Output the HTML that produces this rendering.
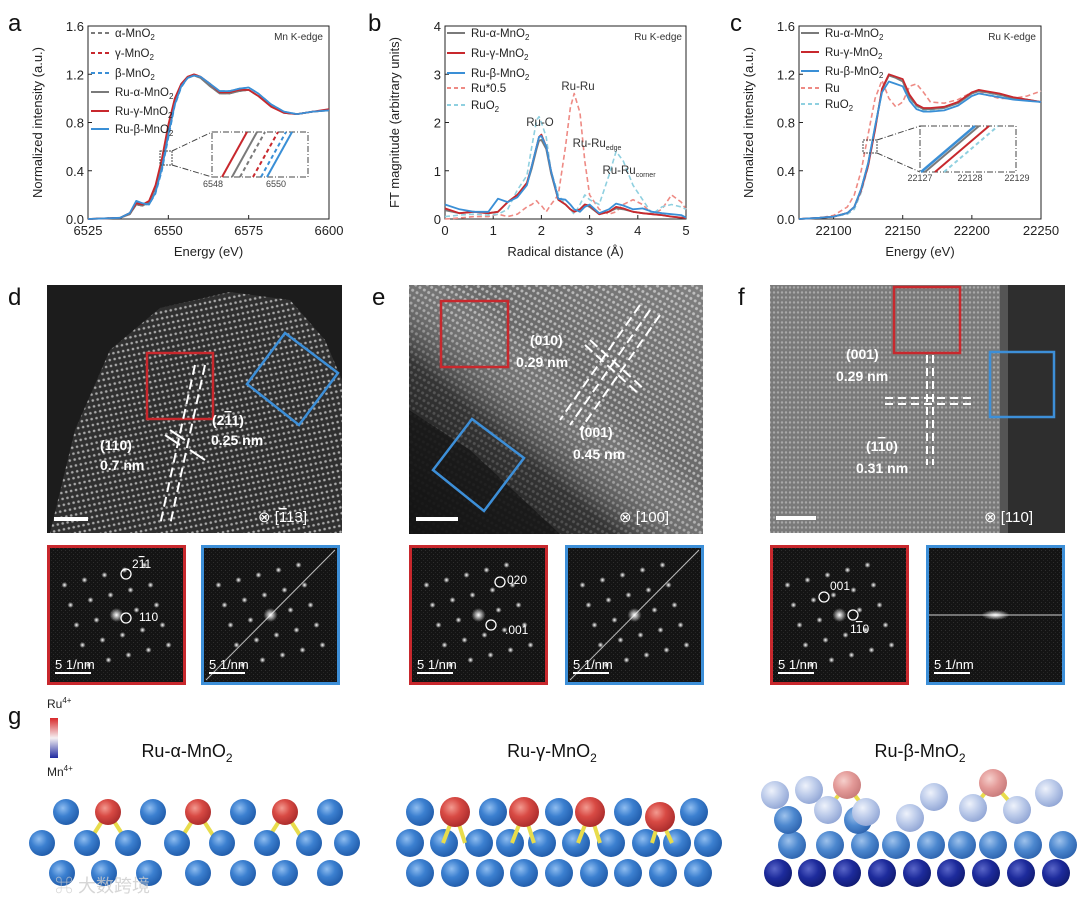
<!DOCTYPE html>
<html><head><meta charset="utf-8"><style>
html,body{margin:0;padding:0;background:#fff;}
svg{display:block;font-family:"Liberation Sans",Arial,sans-serif;}
</style></head><body>
<svg id="fig" width="1080" height="907" viewBox="0 0 1080 907" xmlns="http://www.w3.org/2000/svg">
<defs>
  <pattern id="latD" width="5" height="6" patternUnits="userSpaceOnUse" patternTransform="rotate(-12)"><rect width="5" height="6" fill="#303030"/><circle cx="2.5" cy="3" r="1.3" fill="#a8a8a8"/></pattern>
  <pattern id="latE" width="5" height="6" patternUnits="userSpaceOnUse" patternTransform="rotate(30)"><rect width="5" height="6" fill="#6a6a6a"/><circle cx="2.5" cy="3" r="1.5" fill="#b5b5b5"/></pattern>
  <pattern id="latF" width="4" height="5" patternUnits="userSpaceOnUse"><rect width="4" height="5" fill="#7a7a7a"/><circle cx="2" cy="2.5" r="1.2" fill="#a8a8a8"/></pattern>
  <pattern id="noise" width="4" height="4" patternUnits="userSpaceOnUse"><rect width="4" height="4" fill="#141414"/><rect x="1" y="2" width="1" height="1" fill="#2e2e2e"/><rect x="3" y="0" width="1" height="1" fill="#262626"/></pattern>
  <radialGradient id="gBlue" cx="0.38" cy="0.35" r="0.7"><stop offset="0" stop-color="#8fbdf0"/><stop offset="0.45" stop-color="#3c80d0"/><stop offset="1" stop-color="#1f5aa8"/></radialGradient>
  <radialGradient id="gRed" cx="0.38" cy="0.35" r="0.7"><stop offset="0" stop-color="#f39a90"/><stop offset="0.45" stop-color="#d84a44"/><stop offset="1" stop-color="#a82a2a"/></radialGradient>
  <radialGradient id="gRedL" cx="0.38" cy="0.35" r="0.7"><stop offset="0" stop-color="#f6d0cc"/><stop offset="0.5" stop-color="#e39a98"/><stop offset="1" stop-color="#c77a7a"/></radialGradient>
  <radialGradient id="gLight" cx="0.38" cy="0.35" r="0.7"><stop offset="0" stop-color="#eef2fb"/><stop offset="0.5" stop-color="#bccbea"/><stop offset="1" stop-color="#8fa4d4"/></radialGradient>
  <radialGradient id="gMid" cx="0.38" cy="0.35" r="0.7"><stop offset="0" stop-color="#9ec2ec"/><stop offset="0.5" stop-color="#4d88cf"/><stop offset="1" stop-color="#2c62ad"/></radialGradient>
  <radialGradient id="gDark" cx="0.38" cy="0.35" r="0.7"><stop offset="0" stop-color="#5a66c8"/><stop offset="0.5" stop-color="#1d2b9c"/><stop offset="1" stop-color="#101a70"/></radialGradient>
  <radialGradient id="spot" r="0.5"><stop offset="0" stop-color="#fff"/><stop offset="1" stop-color="#fff" stop-opacity="0"/></radialGradient>
  <linearGradient id="cbar" x1="0" y1="0" x2="0" y2="1"><stop offset="0" stop-color="#d8282a"/><stop offset="0.5" stop-color="#f5f0f3"/><stop offset="1" stop-color="#1f2aa0"/></linearGradient>
  <linearGradient id="eShade" x1="0" y1="1" x2="1" y2="0"><stop offset="0" stop-color="#000" stop-opacity="0.85"/><stop offset="0.35" stop-color="#000" stop-opacity="0.5"/><stop offset="0.6" stop-color="#fff" stop-opacity="0"/><stop offset="1" stop-color="#fff" stop-opacity="0.15"/></linearGradient>
</defs>

<g font-size="24" fill="#111">
<text x="8" y="31">a</text>
<text x="368" y="31">b</text>
<text x="730" y="31">c</text>
<text x="8" y="305">d</text>
<text x="372" y="305">e</text>
<text x="738" y="305">f</text>
<text x="8" y="724">g</text>
</g>

<g id="chartA"></g>
<g id="chartB"></g>
<g id="chartC"></g>

<g>
  <rect x="47" y="285" width="295" height="248" fill="#1c1c1c"/>
  <polygon points="50,533 75,430 110,350 160,308 230,292 290,300 325,340 342,380 342,533" fill="url(#latD)"/>
  <rect x="147" y="353" width="66" height="66" fill="none" stroke="#c8282d" stroke-width="2.5"/>
  <polygon points="285,333 338,373 299,425 247,384" fill="none" stroke="#3d8fd8" stroke-width="2.5"/>
  <g stroke="#fff" stroke-width="2" stroke-dasharray="10,5"><line x1="195" y1="365" x2="160" y2="525"/><line x1="205" y1="365" x2="170" y2="525"/></g>
  <g stroke="#fff" stroke-width="2"><line x1="165" y1="435" x2="180" y2="445"/><line x1="170" y1="430" x2="185" y2="440"/><line x1="190" y1="450" x2="205" y2="460"/></g>
  <g fill="#fff" font-weight="bold" font-size="14">
   <text x="212" y="425">(2<tspan text-decoration="overline">1</tspan>1)</text><text x="211" y="445">0.25 nm</text>
   <text x="100" y="450">(110)</text><text x="100" y="470">0.7 nm</text>
   <text x="258" y="522" font-weight="normal" font-size="15">⊗ [<tspan text-decoration="overline">1</tspan>13]</text>
  </g>
  <rect x="54" y="517" width="34" height="4" fill="#fff"/>
</g>

<g>
  <rect x="409" y="285" width="294" height="249" fill="url(#latE)"/>
  <rect x="409" y="285" width="294" height="249" fill="url(#eShade)"/>
  <polygon points="409,410 470,450 560,534 409,534" fill="#151515" opacity="0.75"/>
  <rect x="441" y="301" width="67" height="66" fill="none" stroke="#c8282d" stroke-width="2.5"/>
  <polygon points="472,419 524,458 484,511 433,470" fill="none" stroke="#3d8fd8" stroke-width="2.5"/>
  <g stroke="#fff" stroke-width="2" stroke-dasharray="10,5">
   <line x1="640" y1="305" x2="560" y2="420"/><line x1="650" y1="310" x2="570" y2="425"/><line x1="660" y1="315" x2="580" y2="430"/>
   <line x1="585" y1="345" x2="640" y2="395"/><line x1="590" y1="340" x2="645" y2="390"/>
  </g>
  <g fill="#fff" font-weight="bold" font-size="14">
   <text x="530" y="345">(010)</text><text x="516" y="367">0.29 nm</text>
   <text x="580" y="437">(001)</text><text x="573" y="459">0.45 nm</text>
   <text x="619" y="522" font-weight="normal" font-size="15">⊗ [100]</text>
  </g>
  <rect x="416" y="517" width="42" height="4" fill="#fff"/>
</g>

<g>
  <rect x="770" y="285" width="295" height="248" fill="url(#latF)"/>
  <rect x="1000" y="285" width="10" height="248" fill="#555"/>
  <rect x="1008" y="285" width="57" height="248" fill="#2e2e2e"/>
  <rect x="894" y="287" width="66" height="66" fill="none" stroke="#c8282d" stroke-width="2.5"/>
  <rect x="990" y="352" width="64" height="65" fill="none" stroke="#3d8fd8" stroke-width="2.5"/>
  <g stroke="#fff" stroke-width="2" stroke-dasharray="8,5">
   <line x1="927" y1="355" x2="927" y2="465"/><line x1="933" y1="355" x2="933" y2="465"/>
   <line x1="885" y1="398" x2="975" y2="398"/><line x1="885" y1="404" x2="975" y2="404"/>
  </g>
  <g fill="#fff" font-weight="bold" font-size="14">
   <text x="846" y="359">(001)</text><text x="836" y="381">0.29 nm</text>
   <text x="866" y="451">(1<tspan text-decoration="overline">1</tspan>0)</text><text x="856" y="473">0.31 nm</text>
   <text x="984" y="522" font-weight="normal" font-size="15">⊗ [110]</text>
  </g>
  <rect x="776" y="516" width="40" height="4" fill="#fff"/>
</g>

<g id="ffts"></g>

<g>
  <text x="47" y="708" font-size="12" fill="#222">Ru<tspan font-size="8" dy="-5">4+</tspan></text>
  <rect x="50" y="718" width="8" height="40" fill="url(#cbar)"/>
  <text x="47" y="776" font-size="12" fill="#222">Mn<tspan font-size="8" dy="-5">4+</tspan></text>
  <text x="187" y="757" font-size="18" text-anchor="middle" fill="#111">Ru-α-MnO<tspan font-size="12" dy="5">2</tspan></text>
  <text x="552" y="757" font-size="18" text-anchor="middle" fill="#111">Ru-γ-MnO<tspan font-size="12" dy="5">2</tspan></text>
  <text x="920" y="757" font-size="18" text-anchor="middle" fill="#111">Ru-β-MnO<tspan font-size="12" dy="5">2</tspan></text>
  <g id="atoms"></g>
  <text x="55" y="892" font-size="18" fill="#ccc" opacity="0.8" font-family="Liberation Sans, 'Noto Sans CJK SC', sans-serif">⌘ 大数跨境</text>
</g>
</svg>
<script>
const NS="http://www.w3.org/2000/svg";
function mk(parent,tag,attrs){const e=document.createElementNS(NS,tag);for(const k in attrs)e.setAttribute(k,attrs[k]);parent.appendChild(e);return e;}

const aEnergy=[6525,6535,6538,6540,6542,6544,6546,6548,6550,6552,6554,6556,6558,6560,6563,6566,6569,6572,6575,6578,6582,6586,6590,6595,6600];
const aAlpha=[0,0.01,0.04,0.12,0.11,0.13,0.24,0.44,0.72,0.97,1.1,1.17,1.19,1.17,1.1,1.04,1.04,1.06,1.07,1.02,0.94,0.88,0.87,0.89,0.9];
const aGamma=[0,0.01,0.04,0.12,0.11,0.13,0.23,0.42,0.70,0.96,1.1,1.17,1.2,1.18,1.11,1.05,1.04,1.06,1.07,1.02,0.94,0.88,0.87,0.89,0.9];
const aBeta=[0,0.01,0.05,0.14,0.12,0.12,0.21,0.40,0.67,0.94,1.09,1.17,1.19,1.18,1.12,1.06,1.06,1.08,1.09,1.04,0.95,0.89,0.87,0.89,0.9];
const aRuAlpha=[0,0.01,0.04,0.12,0.11,0.14,0.26,0.47,0.75,0.99,1.11,1.17,1.19,1.17,1.1,1.04,1.04,1.06,1.07,1.02,0.94,0.88,0.87,0.89,0.9];
const aRuGamma=[0,0.01,0.05,0.13,0.12,0.15,0.28,0.50,0.78,1.0,1.12,1.18,1.2,1.18,1.12,1.05,1.05,1.07,1.07,1.02,0.93,0.88,0.87,0.89,0.91];
const aRuBeta=[0,0.01,0.05,0.15,0.13,0.12,0.22,0.42,0.70,0.95,1.1,1.17,1.19,1.18,1.12,1.06,1.06,1.08,1.09,1.04,0.95,0.89,0.87,0.89,0.9];
const aXTicks=[6525,6550,6575,6600];
const aYTicks=[0,0.4,0.8,1.2,1.6];

const bR=[0,0.3,0.6,0.9,1.1,1.3,1.5,1.7,1.8,1.9,1.95,2.0,2.1,2.2,2.35,2.5,2.6,2.68,2.8,2.9,3.0,3.2,3.4,3.55,3.7,3.9,4.1,4.3,4.5,4.7,4.9,5.0];
const bRuAlpha=[0.18,0.12,0.15,0.12,0.15,0.35,0.5,0.72,1.05,1.45,1.62,1.64,1.45,0.95,0.4,0.3,0.2,0.15,0.2,0.3,0.25,0.1,0.15,0.22,0.2,0.15,0.12,0.1,0.08,0.05,0.03,0.02];
const bRuGamma=[0.22,0.12,0.15,0.12,0.15,0.35,0.5,0.75,1.1,1.5,1.7,1.75,1.5,1.0,0.4,0.3,0.2,0.15,0.2,0.3,0.28,0.1,0.15,0.25,0.22,0.15,0.12,0.1,0.08,0.05,0.03,0.02];
const bRuBeta=[0.3,0.2,0.15,0.15,0.42,0.35,0.45,0.7,1.1,1.5,1.7,1.72,1.5,1.0,0.42,0.4,0.3,0.2,0.15,0.25,0.3,0.12,0.2,0.32,0.28,0.2,0.22,0.15,0.12,0.1,0.08,0.03];
const bRuHalf=[0,0.02,0.05,0.05,0.1,0.05,0.1,0.25,0.3,0.38,0.32,0.28,0.15,0.3,0.5,1.5,2.3,2.6,2.2,1.2,0.5,0.2,0.1,0.15,0.3,0.4,0.3,0.1,0.2,0.5,0.35,0.2];
const bRuO2=[0.05,0.08,0.1,0.08,0.1,0.2,0.6,0.9,1.5,2.05,2.12,2.0,1.7,1.0,0.5,0.3,0.2,0.1,0.3,0.5,0.4,0.3,0.9,1.4,1.2,0.7,0.4,0.1,0.25,0.3,0.25,0.2];
const bXTicks=[0,1,2,3,4,5];
const bYTicks=[0,1,2,3,4];

const cEnergy=[22075,22090,22100,22110,22115,22120,22125,22130,22135,22140,22145,22150,22155,22160,22165,22170,22180,22190,22200,22205,22210,22220,22230,22240,22250];
const cRuAlpha=[0,0.01,0.02,0.05,0.1,0.25,0.46,0.76,1.07,1.19,1.17,1.14,1.01,0.94,0.91,0.91,0.92,0.96,1.04,1.06,1.05,1.03,1.0,0.99,0.97];
const cRuGamma=[0,0.01,0.02,0.05,0.1,0.24,0.44,0.74,1.08,1.2,1.18,1.16,1.03,0.95,0.92,0.92,0.93,0.97,1.05,1.07,1.06,1.04,1.01,0.99,0.97];
const cRuBeta=[0,0.01,0.02,0.05,0.1,0.25,0.46,0.77,1.05,1.14,1.12,1.1,0.98,0.91,0.89,0.89,0.9,0.94,1.02,1.04,1.03,1.01,0.99,0.98,0.97];
const cRu=[0,0.01,0.03,0.1,0.2,0.4,0.7,1.0,1.15,1.0,0.93,0.97,1.1,1.12,1.05,0.97,0.96,0.99,1.05,1.06,1.03,1.0,1.0,1.02,1.06];
const cRuO2=[0,0.01,0.02,0.04,0.08,0.22,0.43,0.74,1.06,1.2,1.18,1.14,1.0,0.93,0.9,0.9,0.92,0.96,1.04,1.06,1.05,1.02,1.0,0.98,0.97];
const cXTicks=[22100,22150,22200,22250];
const cYTicks=[0,0.4,0.8,1.2,1.6];

const GRAY="#7a7a7a",RED="#c8282d",BLUE="#3a8fd6",LRED="#ee8a84",LBLUE="#8fd0e0";

function axes(g,o){
  const sx=v=>o.x0+(v-o.xmin)/(o.xmax-o.xmin)*(o.x1-o.x0);
  const sy=v=>o.y1-(v-o.ymin)/(o.ymax-o.ymin)*(o.y1-o.y0);
  const f=mk(g,'rect',{x:o.x0,y:o.y0,width:o.x1-o.x0,height:o.y1-o.y0,fill:'none',stroke:'#222','stroke-width':1});
  
  
  o.xt.forEach(v=>{
    const x=sx(v);
    mk(g,'line',{x1:x,y1:o.y1,x2:x,y2:o.y1-4,stroke:'#222'});
    const t=mk(g,'text',{x:x,y:o.y1+16,'font-size':13,'text-anchor':'middle',fill:'#222'});t.textContent=v;
    
    
  });
  o.yt.forEach(v=>{
    const y=sy(v);
    mk(g,'line',{x1:o.x0,y1:y,x2:o.x0+4,y2:y,stroke:'#222'});
    const t=mk(g,'text',{x:o.x0-4,y:y+5,'font-size':13,'text-anchor':'end',fill:'#222'});t.textContent=o.yfmt?o.yfmt(v):v;
    
    
  });
  const xt=mk(g,'text',{x:(o.x0+o.x1)/2,y:o.y1+37,'font-size':13,'text-anchor':'middle',fill:'#222'});xt.textContent=o.xlabel;
  
  
  const cy=(o.y0+o.y1)/2, cx=o.x0-46;
  const yt=mk(g,'text',{x:cx,y:cy,'font-size':13,'text-anchor':'middle',fill:'#222',transform:`rotate(-90 ${cx} ${cy})`});yt.textContent=o.ylabel;
  
  
  return {sx,sy};
}
function series(g,s,xs,ys,color,dash,w,name){
  const d=xs.map((x,i)=>(i?'L':'M')+s.sx(x).toFixed(1)+' '+s.sy(ys[i]).toFixed(1)).join(' ');
  const p=mk(g,'path',{d:d,fill:'none',stroke:color,'stroke-width':w||1.8,'stroke-dasharray':dash||'none','stroke-linejoin':'round'});
  
  
}
function legend(g,x,items){
  items.forEach(it=>{
    mk(g,'line',{x1:x,y1:it.y,x2:x+18,y2:it.y,stroke:it.c,'stroke-width':2,'stroke-dasharray':it.d||'none'});
    const t=mk(g,'text',{x:x+24,y:it.y+4,'font-size':11.5,fill:'#222'});t.innerHTML=it.t;
    
    
  });
}
const SUB2='<tspan font-size="8" dy="3">2</tspan>';

(function(){
  const g=document.getElementById('chartA');
  const s=axes(g,{x0:88,x1:329,y0:26,y1:219,xmin:6525,xmax:6600,ymin:0,ymax:1.6,xt:aXTicks,yt:aYTicks,yfmt:v=>v.toFixed(1),xlabel:'Energy (eV)',ylabel:'Normalized intensity (a.u.)'});
  series(g,s,aEnergy,aAlpha,GRAY,'5,3',1.6,'series-alpha-mno2');
  series(g,s,aEnergy,aGamma,RED,'5,3',1.6,'series-gamma-mno2');
  series(g,s,aEnergy,aBeta,BLUE,'5,3',1.6,'series-beta-mno2');
  series(g,s,aEnergy,aRuAlpha,GRAY,null,1.8,'series-ru-alpha-mno2');
  series(g,s,aEnergy,aRuGamma,RED,null,1.8,'series-ru-gamma-mno2');
  series(g,s,aEnergy,aRuBeta,BLUE,null,1.8,'series-ru-beta-mno2');
  legend(g,91,[{y:33,c:GRAY,d:'4,3',t:'α-MnO'+SUB2},{y:53,c:RED,d:'4,3',t:'γ-MnO'+SUB2},{y:73,c:BLUE,d:'4,3',t:'β-MnO'+SUB2},{y:92,c:GRAY,t:'Ru-α-MnO'+SUB2},{y:111,c:RED,t:'Ru-γ-MnO'+SUB2},{y:129,c:BLUE,t:'Ru-β-MnO'+SUB2}]);
  const t=mk(g,'text',{x:323,y:40,'font-size':10,'text-anchor':'end',fill:'#333'});t.textContent='Mn K-edge';
   
  const ins=mk(g,'g',{});
   
  mk(ins,'rect',{x:212,y:132,width:96,height:45,fill:'#fff',stroke:'#444','stroke-dasharray':'6,2,1,2'});
  mk(ins,'rect',{x:160,y:151,width:12,height:14,fill:'none',stroke:'#444','stroke-dasharray':'2,1'});
  mk(ins,'line',{x1:172,y1:151,x2:212,y2:132,stroke:'#444','stroke-dasharray':'6,2,1,2'});
  mk(ins,'line',{x1:172,y1:165,x2:212,y2:177,stroke:'#444','stroke-dasharray':'6,2,1,2'});
  [[222,RED,null],[232,GRAY,null],[240,GRAY,'4,3'],[253,RED,'4,3'],[261,BLUE,'4,3'],[267,BLUE,null]].forEach(l=>mk(ins,'line',{x1:l[0],y1:177,x2:l[0]+25,y2:132,stroke:l[1],'stroke-width':2,'stroke-dasharray':l[2]||'none'}));
  const l1=mk(ins,'text',{x:213,y:187,'font-size':9,'text-anchor':'middle',fill:'#444'});l1.textContent='6548';
  const l2=mk(ins,'text',{x:276,y:187,'font-size':9,'text-anchor':'middle',fill:'#444'});l2.textContent='6550';
})();

(function(){
  const g=document.getElementById('chartB');
  const s=axes(g,{x0:445,x1:686,y0:26,y1:219,xmin:0,xmax:5,ymin:0,ymax:4,xt:bXTicks,yt:bYTicks,xlabel:'Radical distance (Å)',ylabel:'FT magnitude (arbitrary units)'});
  series(g,s,bR,bRuHalf,LRED,'5,3',1.6,'series-ru-x0.5');
  series(g,s,bR,bRuO2,LBLUE,'5,3',1.6,'series-ruo2');
  series(g,s,bR,bRuAlpha,GRAY,null,1.8,'series-ru-alpha-mno2');
  series(g,s,bR,bRuGamma,RED,null,1.8,'series-ru-gamma-mno2');
  series(g,s,bR,bRuBeta,BLUE,null,1.8,'series-ru-beta-mno2');
  legend(g,447,[{y:33,c:GRAY,t:'Ru-α-MnO'+SUB2},{y:53,c:RED,t:'Ru-γ-MnO'+SUB2},{y:73,c:BLUE,t:'Ru-β-MnO'+SUB2},{y:88,c:LRED,d:'4,3',t:'Ru*0.5'},{y:105,c:LBLUE,d:'4,3',t:'RuO'+SUB2}]);
  const ann=[[682,40,'Ru K-edge','end',10],[540,126,'Ru-O','middle',11.5],[578,90,'Ru-Ru','middle',11.5],[597,147,'Ru-Ru<tspan font-size="7" dy="3">edge</tspan>','middle',11.5],[629,174,'Ru-Ru<tspan font-size="7" dy="3">corner</tspan>','middle',11.5]];
  ann.forEach(a=>{const t=mk(g,'text',{x:a[0],y:a[1],'text-anchor':a[3],'font-size':a[4],fill:'#333'});t.innerHTML=a[2];
     });
})();

(function(){
  const g=document.getElementById('chartC');
  const s=axes(g,{x0:799,x1:1041,y0:26,y1:219,xmin:22075,xmax:22250,ymin:0,ymax:1.6,xt:cXTicks,yt:cYTicks,yfmt:v=>v.toFixed(1),xlabel:'Energy (eV)',ylabel:'Normalized intensity (a.u.)'});
  series(g,s,cEnergy,cRu,LRED,'5,3',1.6,'series-ru');
  series(g,s,cEnergy,cRuO2,LBLUE,'5,3',1.6,'series-ruo2');
  series(g,s,cEnergy,cRuAlpha,GRAY,null,1.8,'series-ru-alpha-mno2');
  series(g,s,cEnergy,cRuGamma,RED,null,1.8,'series-ru-gamma-mno2');
  series(g,s,cEnergy,cRuBeta,BLUE,null,1.8,'series-ru-beta-mno2');
  legend(g,801,[{y:33,c:GRAY,t:'Ru-α-MnO'+SUB2},{y:52,c:RED,t:'Ru-γ-MnO'+SUB2},{y:71,c:BLUE,t:'Ru-β-MnO'+SUB2},{y:88,c:LRED,d:'4,3',t:'Ru'},{y:104,c:LBLUE,d:'4,3',t:'RuO'+SUB2}]);
  const t=mk(g,'text',{x:1036,y:40,'font-size':10,'text-anchor':'end',fill:'#333'});t.textContent='Ru K-edge';
   
  const ins=mk(g,'g',{});
   
  mk(ins,'rect',{x:920,y:126,width:96,height:46,fill:'#fff',stroke:'#444','stroke-dasharray':'6,2,1,2'});
  mk(ins,'rect',{x:863,y:140,width:14,height:13,fill:'none',stroke:'#444','stroke-dasharray':'2,1'});
  mk(ins,'line',{x1:877,y1:140,x2:920,y2:126,stroke:'#444','stroke-dasharray':'6,2,1,2'});
  mk(ins,'line',{x1:877,y1:153,x2:920,y2:172,stroke:'#444','stroke-dasharray':'6,2,1,2'});
  [[921,BLUE,null,2.5],[925,GRAY,null,2],[935,RED,null,2],[944,LBLUE,'4,3',2]].forEach(l=>mk(ins,'line',{x1:l[0],y1:172,x2:l[0]+54,y2:126,stroke:l[1],'stroke-width':l[3],'stroke-dasharray':l[2]||'none'}));
  [[920,'22127'],[970,'22128'],[1017,'22129']].forEach(a=>{const t=mk(ins,'text',{x:a[0],y:181,'font-size':9,'text-anchor':'middle',fill:'#444'});t.textContent=a[1];});
})();

(function(){
  const g=document.getElementById('ffts');
  const boxes=[[47,'#c8282d','fft-red-d'],[201,'#3d8fd8','fft-blue-d'],[409,'#c8282d','fft-red-e'],[565,'#3d8fd8','fft-blue-e'],[770,'#c8282d','fft-red-f'],[926,'#3d8fd8','fft-blue-f']];
  boxes.forEach((b,i)=>{
    const x=b[0],y=545,w=139,h=140;
    const grp=mk(g,'g',{});
    
    
    mk(grp,'rect',{x:x+1.5,y:y+1.5,width:w-3,height:h-3,fill:'url(#noise)',stroke:b[1],'stroke-width':3});
    const cx=x+w/2,cy=y+h/2;
    if(i===5){mk(grp,'line',{x1:x+3,y1:cy,x2:x+w-3,y2:cy,stroke:'#aaa','stroke-width':1.2});mk(grp,'ellipse',{cx:cx,cy:cy,rx:14,ry:5,fill:'url(#spot)'});}
    else{
      if(i===1||i===3){mk(grp,'line',{x1:x+5,y1:y+h-5,x2:x+w-5,y2:y+5,stroke:'#bbb','stroke-width':1});}
      mk(grp,'circle',{cx:cx,cy:cy,r:7,fill:'url(#spot)'});
      for(let a=-2;a<=2;a++)for(let c=-2;c<=2;c++){if(!a&&!c)continue;
        const px=cx+a*20+c*6, py=cy+c*20-a*5;
        if(px>x+8&&px<x+w-8&&py>y+8&&py<y+h-8) mk(grp,'circle',{cx:px,cy:py,r:3,fill:'url(#spot)'});}
    }
    mk(grp,'rect',{x:x+8,y:y+h-13,width:36,height:2,fill:'#fff'});
    const t=mk(grp,'text',{x:x+8,y:y+h-16,'font-size':13,fill:'#fff'});t.textContent='5 1/nm';
  });
  const lab=[[132,568,'2<tspan text-decoration="overline">1</tspan>1',126,574],[139,621,'110',126,618],[507,584,'020',500,582],[505,634,'.001',491,625],[830,590,'001',824,597],[850,633,'1<tspan text-decoration="overline">1</tspan>0',853,615]];
  lab.forEach(l=>{const t=mk(g,'text',{x:l[0],y:l[1],'font-size':12,fill:'#fff'});t.innerHTML=l[2];
     
    mk(g,'circle',{cx:l[3],cy:l[4],r:5,fill:'none',stroke:'#fff','stroke-width':1.3});});
})();

const A=document.getElementById('atoms');
function atom(x,y,fill,r){mk(A,'circle',{cx:x,cy:y,r:r||14,fill:fill});}
function bond(x1,y1,x2,y2){mk(A,'line',{x1:x1,y1:y1,x2:x2,y2:y2,stroke:'#e8dc4c','stroke-width':4});}
const alRow2=[42,87,128,177,222,267,309,347];
[108,198,285].forEach(x=>{bond(x,812,x-20,843);bond(x,812,x+20,843);});
alRow2.forEach(x=>atom(x,843,'url(#gBlue)',13));
[66,153,243,330].forEach(x=>atom(x,812,'url(#gBlue)',13));
[108,198,285].forEach(x=>atom(x,812,'url(#gRed)',13));
[62,104,149,198,243,285,330].forEach(x=>atom(x,873,'url(#gBlue)',13));
[410,444,479,510,542,576,611,646,677,708].forEach(x=>atom(x,843,'url(#gBlue)'));
[455,524,590].forEach(x=>{bond(x,812,x-12,843);bond(x,812,x+10,843);});
bond(660,817,652,843);bond(660,817,672,843);
[420,455,490,524,559,594,628,663,698].forEach(x=>atom(x,873,'url(#gBlue)'));
[420,493,559,628,694].forEach(x=>atom(x,812,'url(#gBlue)'));
[455,524,590].forEach(x=>atom(x,812,'url(#gRed)',15));
atom(660,817,'url(#gRed)',15);
[778,812,847,882,917,951,986,1021,1056].forEach(x=>atom(x,873,'url(#gDark)'));
[792,830,865,896,931,962,993,1028,1063].forEach(x=>atom(x,845,'url(#gMid)'));
[788,858].forEach(x=>atom(x,820,'url(#gMid)'));
bond(847,785,828,808);bond(847,785,866,810);bond(993,783,973,808);bond(993,783,1017,810);
[[775,795],[809,790],[828,810],[866,812],[910,818],[934,797],[973,808],[1017,810],[1049,793]].forEach(p=>atom(p[0],p[1],'url(#gLight)'));
atom(847,785,'url(#gRedL)');atom(993,783,'url(#gRedL)');
</script>
</body></html>
